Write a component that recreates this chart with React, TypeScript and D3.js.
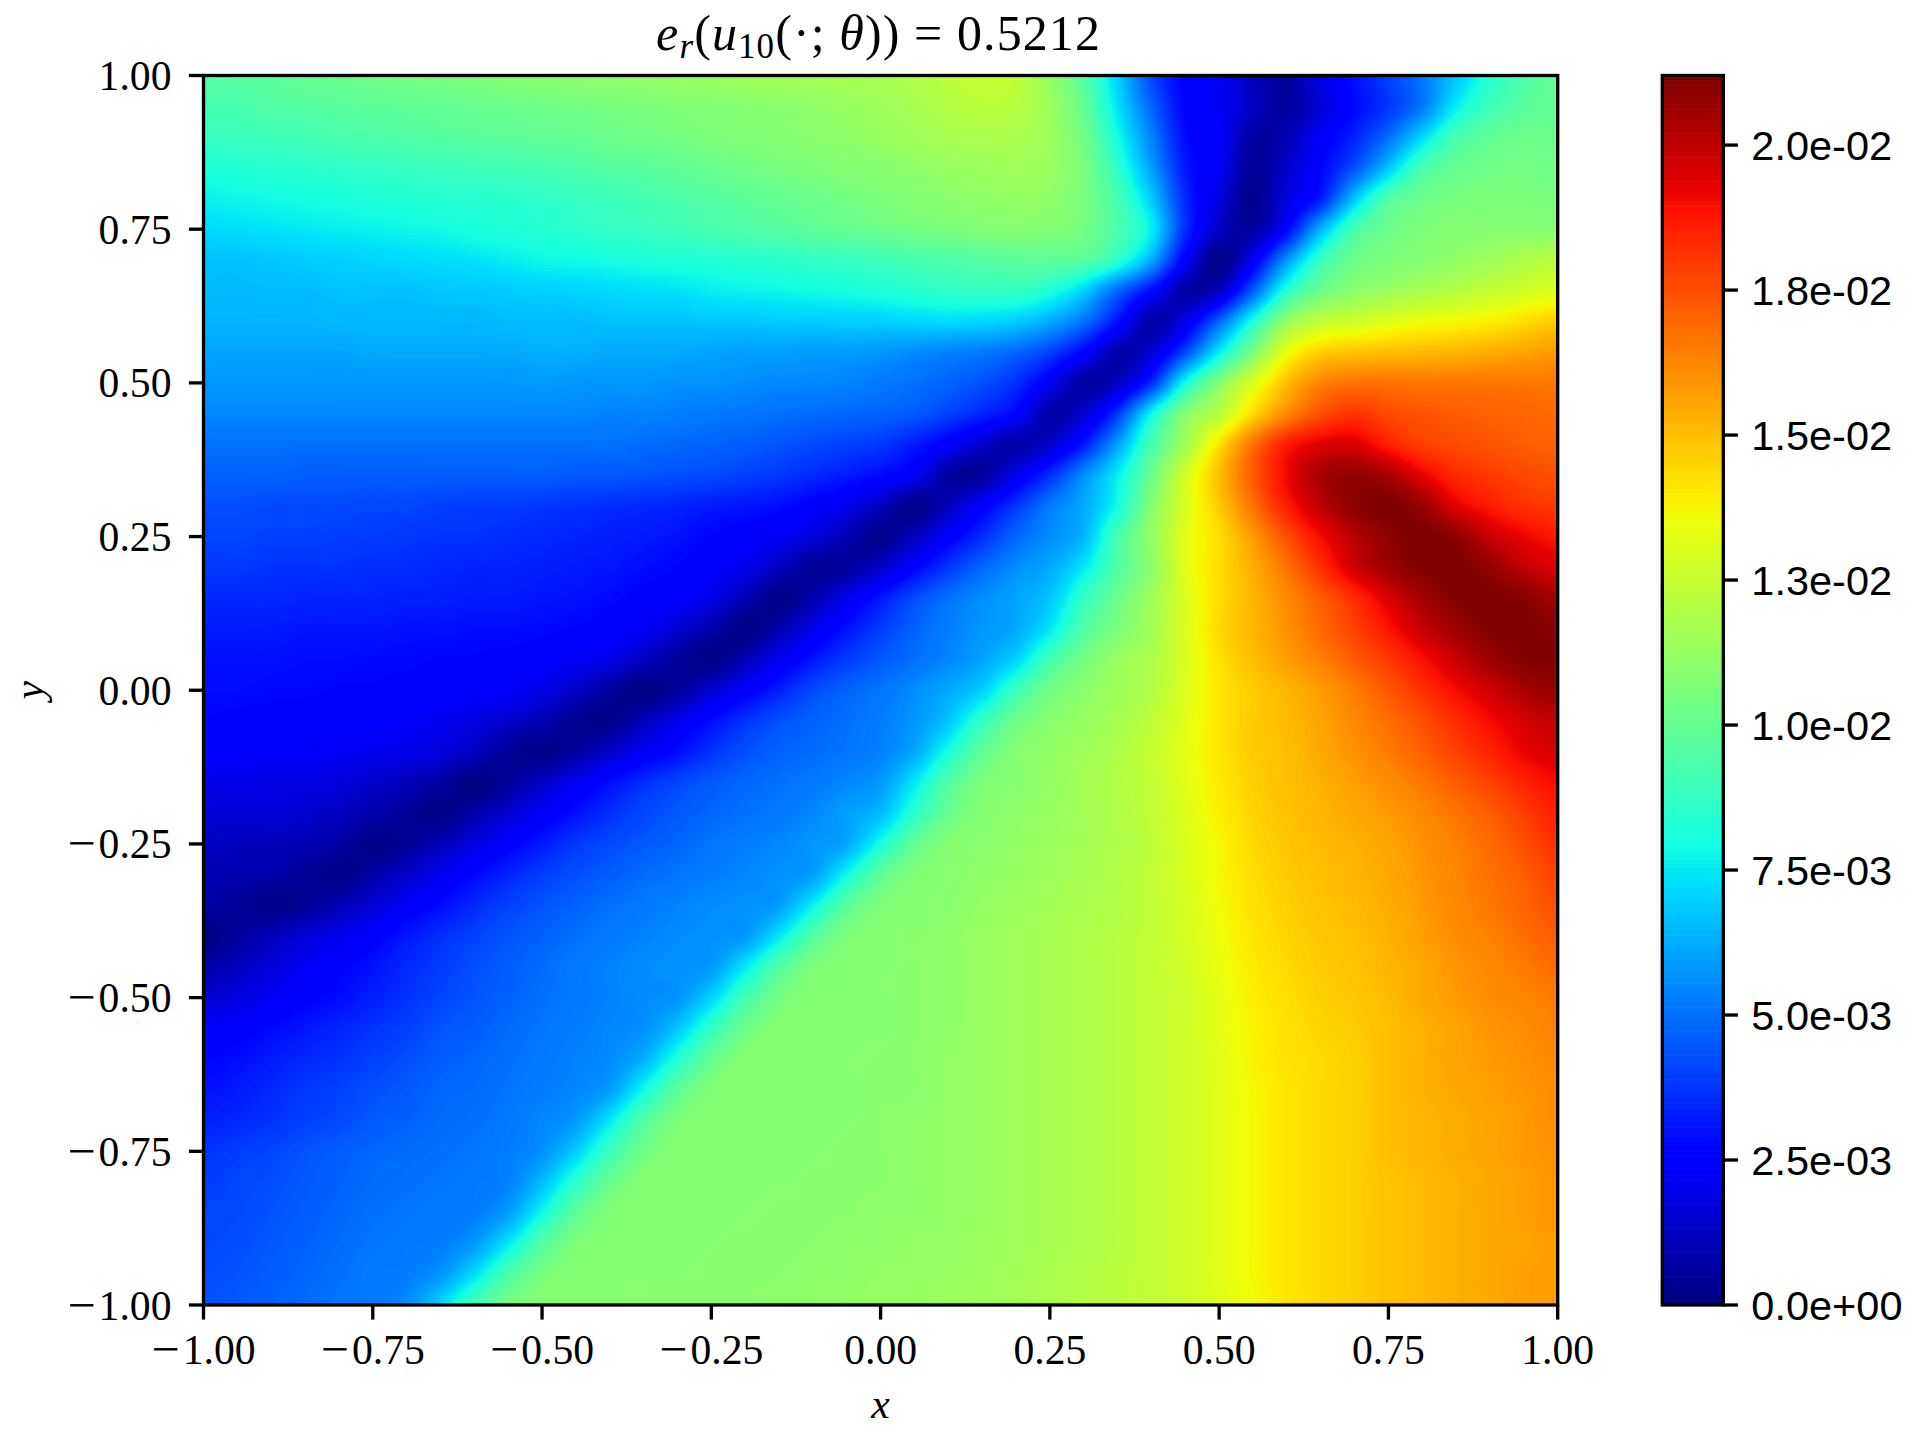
import React, { useEffect, useRef } from "react";
import * as d3 from "d3";

// grid positions of the sampled error field
const gridX = [-1, -0.95, -0.9, -0.85, -0.8, -0.75, -0.7, -0.65, -0.6, -0.55, -0.5, -0.45, -0.4, -0.35, -0.3, -0.25, -0.2, -0.15, -0.1, -0.05, 0, 0.05, 0.1, 0.15, 0.2, 0.25, 0.3, 0.35, 0.4, 0.45, 0.5, 0.55, 0.6, 0.65, 0.7, 0.75, 0.8, 0.85, 0.9, 0.95, 1];
const gridY = [1, 0.95, 0.9, 0.85, 0.8, 0.75, 0.7, 0.65, 0.6, 0.55, 0.5, 0.45, 0.4, 0.35, 0.3, 0.25, 0.2, 0.15, 0.1, 0.05, 0, -0.05, -0.1, -0.15, -0.2, -0.25, -0.3, -0.35, -0.4, -0.45, -0.5, -0.55, -0.6, -0.65, -0.7, -0.75, -0.8, -0.85, -0.9, -0.95, -1];

// error, in units of 1e-4, one row per gridY value
const errorRows = [
  [96,97,98,100,101, 103,104,105,106,108, 109,110,111,112,113, 114,115,116,116,117, 117,119,122,125,123, 112,96,70,42,26, 22,12,6,20,30, 40,52,68,84,94, 100],
  [92,93,95,96,97, 98,99,100,101,102, 103,104,105,106,107, 108,109,110,111,113, 115,117,120,122,121, 114,100,74,48,27, 22,13,6,16,28, 38,52,76,90,97, 100],
  [88,89,90,91,93, 94,95,96,97,98, 99,100,102,103,104, 106,107,108,110,111, 113,115,117,118,118, 114,103,80,54,29, 24,7,10,23,34, 50,72,92,99,102, 102],
  [82,83,84,85,86, 87,88,89,90,91, 92,94,96,97,99, 101,103,105,106,108, 109,111,113,114,115, 113,105,86,60,32, 22,5,14,27,44, 68,92,100,103,104, 103],
  [77,78,79,80,81, 82,83,84,84,85, 86,88,90,92,94, 96,98,100,102,104, 106,108,110,111,112, 111,105,92,69,35, 18,3,18,33,68, 94,102,105,106,106, 105],
  [72,73,74,75,76, 77,78,79,81,82, 83,85,87,88,90, 92,94,96,98,100, 102,104,105,107,108, 107,104,93,76,36, 13,7,27,64,92, 102,106,108,109,109, 109],
  [67,67,68,69,70, 71,72,73,74,76, 78,79,80,81,82, 83,84,85,87,88, 90,92,94,96,98, 98,96,85,62,24, 3,22,58,88,102, 106,109,112,115,119, 122],
  [66,66,66,66,67, 67,67,68,68,69, 70,71,72,73,74, 76,77,78,79,80, 82,84,86,87,87, 82,70,48,28,8, 13,46,84,102,110, 114,118,121,125,128, 131],
  [64,64,64,64,65, 65,65,65,65,66, 66,66,67,67,67, 68,68,69,69,70, 70,71,72,71,69, 62,50,30,8,20, 48,82,112,124,128, 132,135,137,139,143, 147],
  [61,61,61,61,61, 62,62,62,62,62, 63,63,62,62,62, 61,60,60,59,59, 58,56,54,52,48, 40,26,9,16,42, 76,106,134,146,149, 150,151,152,154,156, 158],
  [58,58,58,58,58, 58,58,58,58,58, 59,58,58,58,57, 57,56,55,55,54, 52,50,47,43,36, 22,7,13,36,80, 108,130,150,163,167, 167,166,166,166,166, 166],
  [55,55,55,55,55, 55,55,55,55,55, 55,55,54,54,53, 52,51,50,49,48, 47,45,40,34,26, 8,15,38,78,108, 122,144,162,175,181, 176,174,172,171,170, 169],
  [50,50,50,50,50, 50,50,50,50,50, 50,50,50,49,48, 47,46,44,42,40, 38,32,24,14,8, 15,32,60,92,116, 142,167,186,194,195, 186,179,176,174,172, 171],
  [47,47,47,46,46, 46,46,46,46,46, 46,45,45,44,43, 42,40,38,35,32, 28,22,7,6,20, 36,56,76,102,128, 150,172,191,204,208, 204,193,184,180,177, 175],
  [43,43,42,42,42, 41,41,40,39,39, 38,37,36,35,34, 32,31,29,25,20, 12,3,12,24,38, 52,62,80,108,130, 147,167,186,200,209, 212,207,194,187,182, 180],
  [41,41,40,40,39, 39,38,37,37,36, 35,34,33,32,30, 27,25,22,17,10, 3,12,24,36,48, 56,65,92,112,132, 143,158,175,190,201, 209,212,209,199,192, 188],
  [38,38,37,37,37, 36,36,35,34,34, 33,32,31,29,27, 24,20,12,5,6, 14,26,38,48,56, 62,75,95,110,132, 143,154,167,182,197, 206,211,212,208,200, 195],
  [35,35,35,34,34, 34,33,33,32,32, 31,30,28,26,24, 19,10,2,9,20, 31,42,50,56,61, 68,87,102,115,130, 143,152,162,172,183, 195,205,211,212,210, 205],
  [32,32,32,31,31, 31,30,30,29,29, 28,27,25,22,15, 8,2,9,20,30, 39,47,53,58,62, 75,95,106,116,130, 144,152,160,169,178, 188,198,206,211,212, 210],
  [30,30,30,29,29, 28,28,27,27,26, 25,22,19,12,6, 2,10,21,31,39, 45,50,55,61,71, 91,104,113,119,130, 142,150,157,164,172, 180,189,198,206,211, 211],
  [29,29,28,28,27, 27,26,26,25,23, 19,13,6,1,6, 15,24,33,42,47, 51,56,62,70,89, 103,110,115,120,131, 141,147,152,158,165, 173,182,190,197,204, 207],
  [27,26,26,25,25, 24,23,21,18,14, 10,4,3,11,20, 29,37,43,47,50, 53,58,68,87,102, 109,113,117,123,132, 141,147,151,156,162, 168,175,183,190,196, 200],
  [24,24,23,23,22, 21,20,17,12,5, 2,7,14,22,29, 37,43,47,49,51, 54,62,81,99,108, 112,115,119,125,133, 141,147,150,155,160, 165,171,178,185,192, 196],
  [20,20,19,19,17, 14,11,7,1,6, 13,21,29,36,41, 45,48,50,52,55, 59,75,95,106,109, 112,116,120,124,132, 140,146,150,153,157, 161,166,172,178,185, 190],
  [16,16,16,15,12, 9,5,2,8,15, 23,30,36,41,45, 48,50,52,55,60, 66,85,101,108,111, 113,116,119,124,131, 139,145,149,152,155, 158,162,167,172,179, 186],
  [13,12,11,10,7, 2,5,11,18,25, 32,38,42,45,48, 51,53,55,58,62, 81,99,108,110,112, 114,116,119,123,130, 137,144,148,151,153, 156,160,164,169,175, 182],
  [10,9,8,5,2, 8,14,21,28,34, 39,43,46,49,51, 53,55,57,60,79, 98,107,109,111,113, 115,117,120,124,130, 137,143,147,150,152, 155,159,163,167,172, 178],
  [7,5,2,5,10, 16,23,29,35,40, 44,47,50,52,54, 56,57,60,77,97, 106,108,110,112,114, 116,118,120,124,129, 136,142,146,149,151, 154,158,162,166,170, 175],
  [1,6,11,16,20, 25,31,36,40,44, 47,50,52,54,56, 57,59,75,95,106, 108,110,111,113,115, 117,119,121,124,129, 135,141,145,148,150, 153,157,161,164,168, 172],
  [8,12,17,22,26, 30,35,39,43,46, 49,52,54,56,57, 59,75,95,106,108, 109,110,111,113,115, 117,119,121,124,128, 134,140,144,147,149, 152,155,159,162,165, 169],
  [15,18,22,26,29, 33,37,41,44,47, 50,52,54,56,58, 71,91,104,108,108, 109,110,111,113,115, 117,119,121,124,127, 133,139,143,146,148, 151,155,158,161,163, 165],
  [23,25,28,31,34, 37,40,44,46,49, 51,53,55,57,68, 87,102,108,109,109, 109,110,111,113,115, 117,119,121,124,127, 133,138,142,145,147, 150,153,156,159,161, 164],
  [27,29,32,35,37, 40,43,46,48,50, 52,54,56,64,83, 100,108,109,109,109, 110,110,112,113,115, 117,119,121,124,127, 132,138,142,144,146, 150,153,156,158,160, 162],
  [30,32,35,38,40, 43,45,48,49,51, 53,55,60,79,98, 107,109,109,109,109, 110,110,112,113,115, 117,119,121,124,127, 132,137,141,144,146, 150,153,155,157,159, 161],
  [33,35,37,40,42, 45,47,49,50,52, 55,59,75,95,106, 108,109,109,109,109, 110,111,112,113,115, 117,119,121,124,127, 132,137,141,144,146, 150,152,154,156,158, 161],
  [37,39,41,44,46, 48,49,50,51,53, 57,70,89,103,108, 109,109,109,109,110, 110,111,112,113,115, 117,119,121,124,127, 132,137,141,144,146, 150,152,154,156,158, 160],
  [39,41,43,45,47, 49,50,51,52,54, 66,85,101,108,109, 109,109,109,110,110, 110,111,112,113,115, 117,119,121,124,127, 132,137,141,144,146, 149,151,153,155,157, 159],
  [41,42,44,46,48, 50,51,52,53,60, 79,98,107,109,109, 109,109,110,110,110, 111,111,112,113,115, 117,119,121,124,127, 132,137,141,144,146, 149,151,153,155,157, 159],
  [42,43,45,47,49, 51,52,53,59,75, 95,106,108,109,109, 109,110,110,110,111, 111,112,112,114,115, 117,119,121,124,127, 132,137,141,144,146, 149,151,153,155,156, 158],
  [43,44,46,48,50, 52,53,58,73,93, 105,108,109,109,109, 110,110,110,111,111, 112,112,113,114,116, 118,120,122,124,127, 132,137,141,144,146, 149,151,153,155,157, 158],
  [44,45,47,49,51, 52,56,71,91,104, 108,109,109,110,110, 110,110,111,111,112, 112,113,114,115,116, 118,120,122,124,127, 131,136,141,144,146, 149,151,153,155,157, 158],
];

const errorUnit = 1e-4;
const errorMax = 0.0212;

const axisTicks = [-1, -0.75, -0.5, -0.25, 0, 0.25, 0.5, 0.75, 1];
const barTicks = [0, 0.0025, 0.005, 0.0075, 0.01, 0.0125, 0.015, 0.0175, 0.02];
const barLabels = ["0.0e+00", "2.5e-03", "5.0e-03", "7.5e-03", "1.0e-02", "1.3e-02", "1.5e-02", "1.8e-02", "2.0e-02"];

// matplotlib jet segments
const jetRed = d3.scaleLinear().domain([0, 0.35, 0.66, 0.89, 1]).range([0, 0, 1, 1, 0.5]);
const jetGreen = d3.scaleLinear().domain([0, 0.125, 0.375, 0.64, 0.91, 1]).range([0, 0, 1, 1, 0, 0]);
const jetBlue = d3.scaleLinear().domain([0, 0.11, 0.34, 0.65, 1]).range([0.5, 1, 1, 0, 0]);

const jetRgb = (t: number) => {
  const level = Math.min(255, Math.max(0, Math.floor(t * 256))) / 255;
  return [jetRed(level) * 255, jetGreen(level) * 255, jetBlue(level) * 255];
};

// Catmull-Rom resampling of the grid, the same idea as imshow(interpolation="bicubic")
const cubic = (a: number, b: number, c: number, d: number, s: number) =>
  b + 0.5 * s * (c - a + s * (2 * a - 5 * b + 4 * c - d + s * (3 * (b - c) + d - a)));

const sampleField = (gx: number, gy: number) => {
  const n = gridX.length - 1;
  const m = gridY.length - 1;
  const i = Math.min(n - 1, Math.floor(gx));
  const j = Math.min(m - 1, Math.floor(gy));
  const sx = gx - i;
  const sy = gy - j;
  const col = [0, 0, 0, 0];
  for (let k = -1; k <= 2; k++) {
    const row = errorRows[Math.max(0, Math.min(m, j + k))];
    col[k + 1] = cubic(
      row[Math.max(0, i - 1)],
      row[i],
      row[i + 1],
      row[Math.min(n, i + 2)],
      sx
    );
  }
  return cubic(col[0], col[1], col[2], col[3], sy);
};

const width = 1920;
const height = 1440;
const plot = { left: 203.5, right: 1557.7, top: 75.5, bottom: 1305 };
const bar = { left: 1662.3, right: 1723.3 };
const lineWidth = 3.33;
const tickLength = 14.6;
const serif = "'Liberation Serif', serif";
const sans = "'Liberation Sans', sans-serif";

// the minus sign is set larger, Liberation's is narrower than the one in the reference
function writeTick(this: SVGTextElement, d: number) {
  const text = d3.select(this);
  const label = Math.abs(d).toFixed(2);
  if (d < 0) {
    text.append("tspan").attr("dy", 2).style("font-size", "50px").text("\u2212");
    text.append("tspan").attr("dy", -2).attr("dx", 3).text(label);
  } else {
    text.text(label);
  }
}

const App = () => {
  const svgRef = useRef<SVGSVGElement>(null);

  useEffect(() => {
    const svg = d3.select(svgRef.current);
    svg.selectAll("*").remove();

    const x = d3.scaleLinear().domain([-1, 1]).range([plot.left, plot.right]);
    const y = d3.scaleLinear().domain([-1, 1]).range([plot.bottom, plot.top]);
    const barY = d3.scaleLinear().domain([0, errorMax]).range([plot.bottom, plot.top]);

    // --- heat field ---
    const cols = Math.round(plot.right - plot.left);
    const rows = Math.round(plot.bottom - plot.top);
    const canvas = document.createElement("canvas");
    canvas.width = cols;
    canvas.height = rows;
    const ctx = canvas.getContext("2d");
    const img = ctx.createImageData(cols, rows);
    const toGridX = d3.scaleLinear().domain([0, cols - 1]).range([0, gridX.length - 1]);
    const toGridY = d3.scaleLinear().domain([0, rows - 1]).range([0, gridY.length - 1]);
    for (let py = 0; py < rows; py++) {
      for (let px = 0; px < cols; px++) {
        const value = sampleField(toGridX(px), toGridY(py)) * errorUnit;
        const [r, g, b] = jetRgb(value / errorMax);
        const o = (py * cols + px) * 4;
        img.data[o] = r;
        img.data[o + 1] = g;
        img.data[o + 2] = b;
        img.data[o + 3] = 255;
      }
    }
    ctx.putImageData(img, 0, 0);

    svg.append("image")
      .attr("x", plot.left)
      .attr("y", plot.top)
      .attr("width", plot.right - plot.left)
      .attr("height", plot.bottom - plot.top)
      .attr("preserveAspectRatio", "none")
      .attr("href", canvas.toDataURL("image/png"));

    // --- colorbar, 256 flat levels ---
    const levels = d3.range(256);
    svg.append("g")
      .selectAll("rect")
      .data(levels)
      .join("rect")
      .attr("x", bar.left)
      .attr("width", bar.right - bar.left)
      .attr("y", (d) => barY(((d + 1) / 256) * errorMax))
      .attr("height", (plot.bottom - plot.top) / 256 + 0.6)
      .attr("fill", (d) => {
        const [r, g, b] = jetRgb((d + 0.5) / 256);
        return `rgb(${r},${g},${b})`;
      });

    // --- frames ---
    [[plot.left, plot.right], [bar.left, bar.right]].forEach(([l, r]) => {
      svg.append("rect")
        .attr("x", l)
        .attr("y", plot.top)
        .attr("width", r - l)
        .attr("height", plot.bottom - plot.top)
        .attr("fill", "none")
        .attr("stroke", "#000")
        .attr("stroke-width", lineWidth)
        .attr("stroke-linejoin", "miter");
    });

    // --- x ticks ---
    const xTicks = svg.append("g").selectAll("g").data(axisTicks).join("g")
      .attr("transform", (d) => `translate(${x(d)},${plot.bottom})`);
    xTicks.append("line")
      .attr("y2", tickLength)
      .attr("stroke", "#000")
      .attr("stroke-width", lineWidth);
    xTicks.append("text")
      .attr("y", 59)
      .attr("text-anchor", "middle")
      .style("font-family", serif)
      .style("font-size", "41.67px")
      .each(writeTick);

    // --- y ticks ---
    const yTicks = svg.append("g").selectAll("g").data(axisTicks).join("g")
      .attr("transform", (d) => `translate(${plot.left},${y(d)})`);
    yTicks.append("line")
      .attr("x2", -tickLength)
      .attr("stroke", "#000")
      .attr("stroke-width", lineWidth);
    yTicks.append("text")
      .attr("x", -32)
      .attr("y", 14.5)
      .attr("text-anchor", "end")
      .style("font-family", serif)
      .style("font-size", "41.67px")
      .each(writeTick);

    // --- colorbar ticks ---
    const barTickGroups = svg.append("g").selectAll("g").data(barTicks).join("g")
      .attr("transform", (d) => `translate(${bar.right},${barY(d)})`);
    barTickGroups.append("line")
      .attr("x2", tickLength)
      .attr("stroke", "#000")
      .attr("stroke-width", lineWidth);
    barTickGroups.append("text")
      .attr("x", 28)
      .attr("y", 14.5)
      .style("font-family", sans)
      .style("font-size", "41.5px")
      .text((d, i) => barLabels[i]);

    // --- axis labels ---
    svg.append("text")
      .attr("x", x(0))
      .attr("y", 1418)
      .attr("text-anchor", "middle")
      .style("font-family", serif)
      .style("font-style", "italic")
      .style("font-size", "41.67px")
      .text("x");

    svg.append("text")
      .attr("transform", `translate(43,${y(0)}) rotate(-90)`)
      .attr("text-anchor", "middle")
      .style("font-family", serif)
      .style("font-style", "italic")
      .style("font-size", "41.67px")
      .text("y");

    // --- title ---
    const title = svg.append("text")
      .attr("x", x(0) - 2)
      .attr("y", 50)
      .attr("text-anchor", "middle")
      .style("font-family", serif)
      .style("font-size", "50px")
      .style("letter-spacing", "1.1px");
    const part = (s: string, italic = false, sub = false, shift = 0) => {
      title.append("tspan")
        .attr("dy", shift)
        .style("font-style", italic ? "italic" : "normal")
        .style("font-size", sub ? "35px" : "50px")
        .text(s);
    };
    part("e", true);
    part("r", true, true, 8);
    part("(", false, false, -8);
    part("u", true);
    part("10", false, true, 8);
    part("(\u00B7; ", false, false, -8);
    part("\u03B8", true);
    part(")) = 0.5212");
  }, []);

  return (
    <svg
      ref={svgRef}
      width={width}
      height={height}
      viewBox={`0 0 ${width} ${height}`}
      style={{ position: "absolute", left: 0, top: 0, background: "#fff" }}
    />
  );
};

export default App;
